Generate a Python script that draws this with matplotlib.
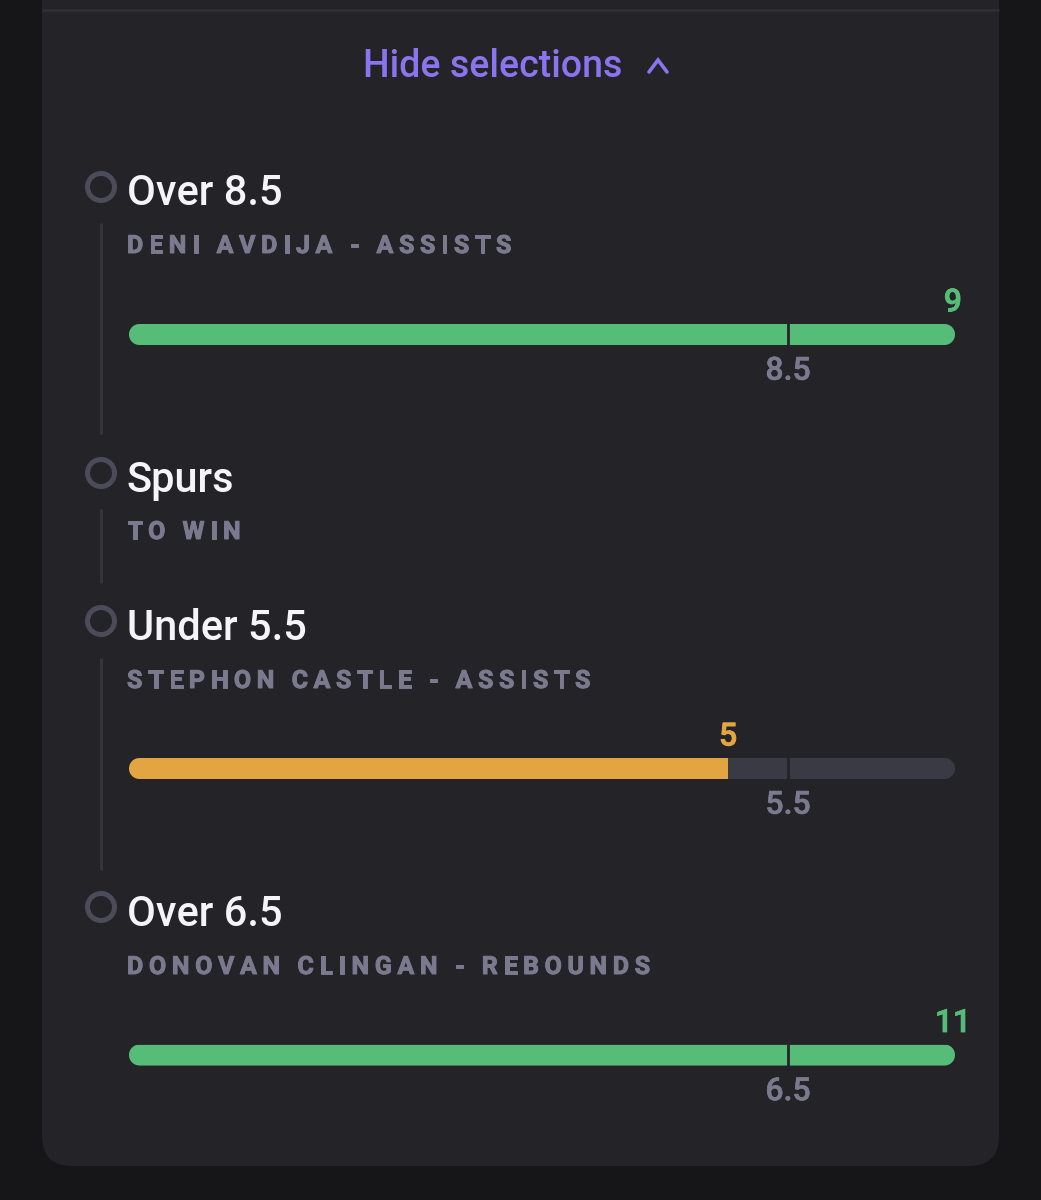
import matplotlib
matplotlib.use("Agg")
import matplotlib.pyplot as plt
import matplotlib.patheffects as pe
from matplotlib.patches import Circle, FancyBboxPatch, PathPatch
from matplotlib.path import Path
from matplotlib.transforms import Affine2D

# Data
picks = ["Over 8.5", "Spurs", "Under 5.5", "Over 6.5"]
markets = ["DENI AVDIJA - ASSISTS", "TO WIN", "STEPHON CASTLE - ASSISTS", "DONOVAN CLINGAN - REBOUNDS"]
lines = [8.5, None, 5.5, 6.5]
actuals = [9, None, 5, 11]
states = ["hit", None, "live", "hit"]
toggle_label = "Hide selections"

# Layout, in pixels of the 1041x1200 image
W, H = 1041, 1200
title_base = [205, 492, 640, 926]
market_base = [253, 539, 688, 974]
circle_y = [187, 473, 621, 907]
bar_top = [324, None, 758, 1044.5]
connectors = [(223, 434), (509, 583), (658, 870)]
BAR_X0, BAR_X1, BAR_H = 129, 955, 21
LINE_X = 788  # the target line sits here on every track

BG = "#161618"
PANEL = "#242328"
DIVIDER = "#2f2e35"
CONNECT = "#35343c"
RING = "#4c4b59"
WHITE = "#f5f4f8"
MUTED = "#7b798e"
PURPLE = "#8a74f0"
TRACK = "#3a3a44"
STATE_COLORS = {"hit": "#55bd78", "live": "#e3a541"}
FONT = "Roboto"


def heavier(width, color):
    # Roboto comes out a bit thin next to the original, thicken with a stroke
    return [pe.withStroke(linewidth=width, foreground=color)]


fig = plt.figure(figsize=(W / 100, H / 100), dpi=100, facecolor=BG)
ax = fig.add_axes([0, 0, 1, 1])
ax.set_xlim(0, W)
ax.set_ylim(H, 0)
ax.axis("off")


def spaced_text(x, y, text, gap, **kw):
    # matplotlib has no letter spacing, so place the characters one at a time
    renderer = fig.canvas.get_renderer()
    for ch in text:
        t = ax.text(x, y, ch, va="baseline", ha="left", **kw)
        if ch == " ":
            x += 6 + gap
        else:
            x += t.get_window_extent(renderer).width + gap


def pill(x0, x1, top, height):
    # FancyBboxPatch corners come out too square, so use real half circles
    r = height / 2
    left = Path.arc(90, 270).transformed(Affine2D().scale(r).translate(x0 + r, top + r))
    right = Path.arc(-90, 90).transformed(Affine2D().scale(r).translate(x1 - r, top + r))
    verts = list(left.vertices) + list(right.vertices) + [left.vertices[0]]
    codes = list(left.codes) + [Path.LINETO] + list(right.codes[1:]) + [Path.CLOSEPOLY]
    return Path(verts, codes)


# panel
ax.add_patch(FancyBboxPatch((42, -60), 957, 1226, boxstyle="round,pad=0,rounding_size=30",
                            fc=PANEL, ec="none"))
ax.plot([42, 999], [10, 10], color=DIVIDER, lw=2, solid_capstyle="butt")

# toggle
ax.text(363, 77, toggle_label, color=PURPLE, fontsize=27, family=FONT, weight="medium",
        va="baseline", ha="left")
ax.plot([649, 658, 667], [72, 60, 72], color=PURPLE, lw=2.6, solid_capstyle="round",
        solid_joinstyle="miter")

for y0, y1 in connectors:
    ax.plot([100.5, 100.5], [y0, y1], color=CONNECT, lw=2.2, solid_capstyle="butt")

for i, pick in enumerate(picks):
    ax.add_patch(Circle((101, circle_y[i]), 13.5, fc="none", ec=RING, lw=3.6))
    ax.text(127, title_base[i], pick, color=WHITE, fontsize=30, family=FONT, weight="medium",
            va="baseline", ha="left")
    spaced_text(127, market_base[i], markets[i], 5.6, color=MUTED, fontsize=18, family=FONT,
                weight="bold", path_effects=heavier(0.7, MUTED))

    if lines[i] is None:
        continue

    top = bar_top[i]
    track = PathPatch(pill(BAR_X0, BAR_X1, top, BAR_H), fc=TRACK, ec="none")
    ax.add_patch(track)

    # each track gets its own value scale, with the line at a fixed spot
    bar_ax = fig.add_axes([BAR_X0 / W, 1 - (top + BAR_H) / H, (BAR_X1 - BAR_X0) / W, BAR_H / H])
    bar_ax.axis("off")
    x_max = lines[i] * (BAR_X1 - BAR_X0) / (LINE_X - BAR_X0)
    bar_ax.set_xlim(0, x_max)
    bar_ax.set_ylim(0, 1)

    # anything past the line fills the whole track
    past_line = actuals[i] > lines[i]
    shown = x_max if past_line else actuals[i]
    color = STATE_COLORS[states[i]]
    bars = bar_ax.barh(0.5, shown, height=1, color=color)
    for b in bars:
        b.set_clip_path(track)
    bar_ax.axvline(lines[i], color=PANEL, lw=2)

    nudge = -1.5 if past_line else 0
    bar_ax.annotate(str(actuals[i]), xy=(shown, 1), xycoords=("data", "axes fraction"),
                    xytext=(nudge, 9), textcoords="offset points", ha="center", va="baseline",
                    color=color, fontsize=23, family=FONT, weight="medium",
                    path_effects=heavier(0.6, color))
    bar_ax.annotate(str(lines[i]), xy=(lines[i], 0), xycoords=("data", "axes fraction"),
                    xytext=(0, -25), textcoords="offset points", ha="center", va="baseline",
                    color=MUTED, fontsize=23, family=FONT, weight="medium",
                    path_effects=heavier(0.4, MUTED))

fig.savefig("out.png", dpi=100, facecolor=BG)
